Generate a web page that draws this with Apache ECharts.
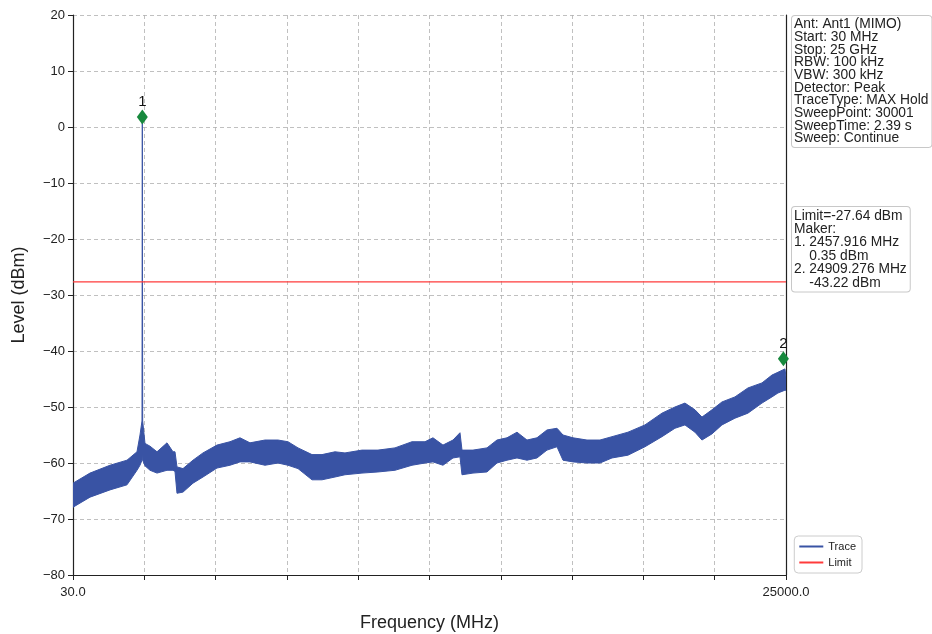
<!DOCTYPE html>
<html>
<head>
<meta charset="utf-8">
<script src="https://cdn.jsdelivr.net/npm/echarts@6/dist/echarts.min.js"></script>
<style>html,body{margin:0;padding:0;background:#fff}#c{width:932px;height:634px}</style>
</head>
<body>
<div id="c"></div>
<script>
// Frequency sample points (MHz) of the trace envelope
var freqMHz = [30,625,1326,1921,2271,2376,2446,2457.9,2470,2551,2727,2972,3322,3532,3602,3672,3882,4232,4583,5073,5528,5878,6228,6754,7209,7559,7910,8400,8750,9205,9555,10151,10711,11306,11902,12357,12637,12987,13338,13583,13653,14038,14528,14878,15229,15579,15929,16279,16629,16980,17190,17540,18030,18485,18906,19466,20061,20656,21111,21461,21812,22057,22407,22757,23212,23667,24158,24508,24718,24963,25000];
// Upper envelope of trace (dBm)
var traceTop = [-63.6,-61.8,-60.4,-59.5,-58,-55,-52.5,1.8,-52.5,-56.5,-57,-58,-56.4,-58,-58,-60.7,-61,-59.5,-58.2,-56.8,-56.2,-55.5,-56.4,-55.9,-55.9,-56.2,-57.3,-58.5,-58.5,-58,-58.2,-57.7,-57.7,-57.3,-56.2,-56.2,-55.5,-56.8,-55.9,-54.6,-57.7,-57.7,-57.3,-55.9,-55.5,-54.5,-55.9,-55.5,-54.1,-53.8,-55,-55.5,-55.9,-55.9,-55.3,-54.5,-53.2,-51.1,-50,-49.3,-50.5,-51.8,-50.5,-49.1,-48.2,-46.6,-45.7,-44.3,-43.8,-43.2,-44.6];
// Lower envelope of trace (dBm)
var traceBottom = [-67.9,-66.1,-64.8,-63.9,-61.3,-60.4,-59.5,-57,-59.5,-60.5,-61.3,-61.8,-61.3,-61.3,-61.5,-65.4,-65.2,-63.6,-62.5,-60.9,-60.4,-59.8,-59.8,-60.4,-60,-60.4,-61,-63,-63,-62.5,-62.1,-61.8,-61.6,-61.3,-60.4,-60,-59.8,-60.4,-59.1,-58.9,-62.1,-61.8,-61.6,-60,-59.5,-59.1,-59.5,-59.1,-57.7,-57.1,-59.5,-59.8,-60,-60,-59.1,-58.6,-57.1,-55.3,-53.8,-53.2,-54.5,-55.9,-54.8,-53.2,-52,-51.1,-49.3,-48.2,-47.5,-47,-47];
// Limit
var limitFreq = [30, 25000];
var limitValue = -27.64;
// Markers (as drawn)
var markerFreq = [2457.916, 24909.276];
var markerLevel = [1.8, -41.4];
var markerNames = ['1', '2'];
// Axis
var xMin = 30, xMax = 25000, xStep = 2497;
var yMin = -80, yMax = 20, yStep = 10;
// Info texts
var infoLines = ['Ant: Ant1 (MIMO)','Start: 30 MHz','Stop: 25 GHz','RBW: 100 kHz','VBW: 300 kHz','Detector: Peak','TraceType: MAX Hold','SweepPoint: 30001','SweepTime: 2.39 s','Sweep: Continue'];
var markerLines = ['Limit=-27.64 dBm','Maker:','1. 2457.916 MHz','    0.35 dBm','2. 24909.276 MHz','    -43.22 dBm'];

var FONT = '"Liberation Sans", Arial, sans-serif';
var BLUE = '#3953a4', RED = '#ff3b3b', GREEN = '#17893d';

var chart = echarts.init(document.getElementById('c'), null, {renderer: 'canvas'});

// band polygon drawn through the axis scales
function renderBand(params, api) {
  if (params.dataIndex !== 0) return;
  var up = [], dn = [];
  for (var i = 0; i < freqMHz.length; i++) {
    up.push(api.coord([freqMHz[i], traceTop[i]]));
    dn.push(api.coord([freqMHz[i], traceBottom[i]]));
  }
  var pts = up.concat(dn.reverse());
  return {
    type: 'polygon',
    shape: {points: pts},
    style: {fill: BLUE, stroke: BLUE, lineWidth: 1}
  };
}
var bandData = freqMHz.map(function(f, i){ return [f, traceTop[i], traceBottom[i]]; });
var limitData = limitFreq.map(function(f){ return [f, limitValue]; });
var markData = markerFreq.map(function(f, i){ return {value: [f, markerLevel[i]], name: markerNames[i]}; });

chart.setOption({
  animation: false,
  backgroundColor: '#fff',
  grid: {left: 73, right: 146, top: 15, bottom: 59, containLabel: false, outerBoundsMode: 'none'},
  xAxis: {
    type: 'value', min: xMin, max: xMax, interval: xStep,
    name: 'Frequency (MHz)', nameLocation: 'middle', nameGap: 39,
    nameTextStyle: {fontFamily: FONT, fontSize: 18, color: '#222'},
    axisLine: {onZero: false, lineStyle: {color: '#222', width: 1.2}},
    axisTick: {show: true, length: 5, lineStyle: {color: '#222'}},
    axisLabel: {fontFamily: FONT, fontSize: 13, color: '#222', margin: 11, showMinLabel: true, showMaxLabel: true,
      formatter: function(v){ return (Math.abs(v - xMin) < 1e-6 || Math.abs(v - xMax) < 1e-6) ? v.toFixed(1) : ''; }},
    splitLine: {show: true, lineStyle: {color: '#b0b0b0', type: [4, 3], width: 0.8}}
  },
  yAxis: [{
    type: 'value', min: yMin, max: yMax, interval: yStep,
    name: 'Level (dBm)', nameLocation: 'middle', nameGap: 45,
    nameTextStyle: {fontFamily: FONT, fontSize: 18, color: '#222'},
    axisLine: {show: true, onZero: false, lineStyle: {color: '#222', width: 1.2}},
    axisTick: {show: true, length: 5, lineStyle: {color: '#222'}},
    axisLabel: {fontFamily: FONT, fontSize: 13, color: '#222', margin: 8,
      formatter: function(v){ return v < 0 ? '\u2212' + Math.abs(v) : String(v); }},
    splitLine: {show: true, lineStyle: {color: '#b0b0b0', type: [4, 3], width: 0.8}}
  }, {
    type: 'value', min: yMin, max: yMax, interval: yStep, position: 'right',
    axisLine: {show: true, onZero: false, lineStyle: {color: '#222', width: 1.2}},
    axisTick: {show: false}, axisLabel: {show: false}, splitLine: {show: false}
  }],
  legend: {
    right: 70, bottom: 61, orient: 'vertical', itemGap: 5,
    itemWidth: 24, itemHeight: 2, icon: 'rect',
    data: [
      {name: 'Trace', itemStyle: {color: BLUE}},
      {name: 'Limit', itemStyle: {color: RED}}
    ],
    textStyle: {fontFamily: FONT, fontSize: 11, color: '#222'},
    borderColor: '#cccccc', borderWidth: 1, borderRadius: 4, padding: [5, 6, 5, 5],
    backgroundColor: '#fff'
  },
  series: [
    {name: 'Trace', type: 'custom', renderItem: renderBand, data: bandData,
      encode: {x: 0, y: [1, 2]}, itemStyle: {color: BLUE}, clip: true, z: 3},
    {name: 'Limit', type: 'line', data: limitData, symbol: 'none',
      lineStyle: {color: RED, width: 1.2, opacity: 1}, itemStyle: {color: RED}, z: 4},
    {name: 'markers', type: 'scatter', data: markData, symbol: 'diamond', symbolSize: [11, 15],
      itemStyle: {color: GREEN, opacity: 1}, z: 5,
      label: {show: true, position: 'top', distance: 0, formatter: '{b}', fontFamily: FONT, fontSize: 15, color: '#111'}}
  ],
  graphic: [
    {type: 'text', left: 791, top: 15, z: 10,
      style: {text: infoLines.join('\n'), font: '13.8px ' + FONT, fill: '#222', lineHeight: 12.7,
        backgroundColor: '#fff', borderColor: '#c8c8c8', borderWidth: 1, borderRadius: 3, padding: [2, 3, 2, 2]}},
    {type: 'text', left: 791, top: 206, z: 10,
      style: {text: markerLines.join('\n'), font: '13.8px ' + FONT, fill: '#222', lineHeight: 13.4,
        backgroundColor: '#fff', borderColor: '#c8c8c8', borderWidth: 1, borderRadius: 3, padding: [2, 3, 2, 2]}}
  ]
});
</script>
</body>
</html>
